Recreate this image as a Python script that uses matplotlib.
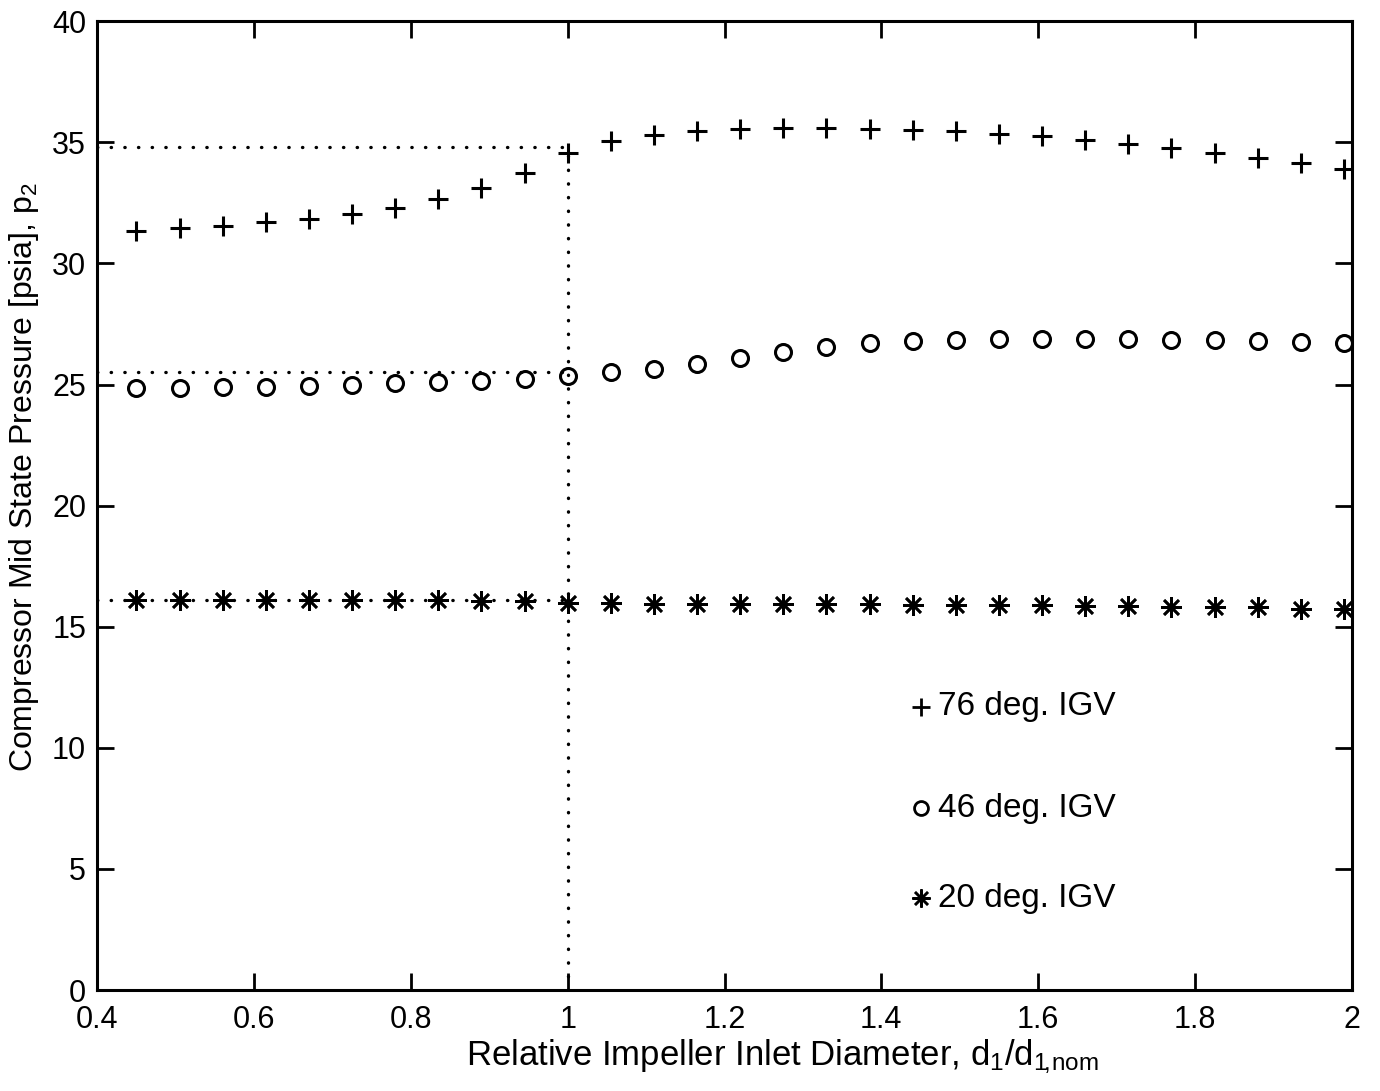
"""
Compressor mid state pressure vs relative impeller inlet diameter.
Recreation of a scanned MATLAB-style plot.
"""

import matplotlib.pyplot as plt

plt.rcParams["font.family"] = ["Liberation Sans", "DejaVu Sans"]
plt.rcParams["mathtext.fontset"] = "custom"
plt.rcParams["mathtext.rm"] = "Liberation Sans"
plt.rcParams["mathtext.it"] = "Liberation Sans"

# ── Data ─────────────────────────────────────────────────────────────────────
d_rel = [0.45, 0.505, 0.56, 0.615, 0.67, 0.725, 0.78, 0.835, 0.89, 0.945, 1.0,
         1.055, 1.11, 1.165, 1.22, 1.275, 1.33, 1.385, 1.44, 1.495, 1.55,
         1.605, 1.66, 1.715, 1.77, 1.825, 1.88, 1.935, 1.99]

p2_76 = [31.35, 31.45, 31.55, 31.7, 31.85, 32.05, 32.3, 32.65, 33.1, 33.75, 34.55,
         35.05, 35.3, 35.45, 35.55, 35.6, 35.6, 35.55, 35.5, 35.45, 35.35,
         35.25, 35.1, 34.95, 34.75, 34.55, 34.35, 34.15, 33.9]

p2_46 = [24.85, 24.85, 24.9, 24.9, 24.95, 25.0, 25.05, 25.1, 25.15, 25.25, 25.35,
         25.5, 25.65, 25.85, 26.1, 26.35, 26.55, 26.7, 26.8, 26.85, 26.9,
         26.9, 26.9, 26.9, 26.85, 26.85, 26.8, 26.75, 26.7]

p2_20 = [16.1, 16.1, 16.1, 16.1, 16.1, 16.1, 16.1, 16.1, 16.05, 16.05, 16.0,
         16.0, 15.95, 15.95, 15.95, 15.95, 15.95, 15.95, 15.9, 15.9, 15.9,
         15.9, 15.85, 15.85, 15.8, 15.8, 15.8, 15.75, 15.75]

# nominal point reference levels (dotted guides)
d_nom = 1.0
ref_76 = 34.8
ref_46 = 25.5
ref_20 = 16.1

legend_labels = ["76 deg. IGV", "46 deg. IGV", "20 deg. IGV"]
legend_y = [11.7, 7.5, 3.8]
legend_x = 1.45

STAR = (8, 2, 0)

# ── Plot ─────────────────────────────────────────────────────────────────────
fig = plt.figure(figsize=(13.8, 10.91), dpi=100)
fig.patch.set_facecolor("white")
ax = fig.add_axes([0.0705, 0.0925, 0.909, 0.888])

ax.plot(d_rel, p2_76, linestyle="none", marker="+", ms=14, mew=2.2, color="black")
ax.plot(d_rel, p2_46, linestyle="none", marker="o", ms=11.5, mew=2.2,
        mfc="none", mec="black")
ax.plot(d_rel, p2_20, linestyle="none", marker=STAR, ms=15, mew=1.9,
        color="black")

dot = dict(color="black", linestyle=(0, (0.1, 4)), linewidth=2.4,
           dash_capstyle="round")
ax.plot([0.4, d_nom], [ref_76, ref_76], **dot)
ax.plot([d_nom, d_nom], [0, ref_76], **dot)
ax.plot([0.4, d_nom], [ref_46, ref_46], **dot)
ax.plot([0.4, d_nom], [ref_20, ref_20], **dot)

# legend written as text, MATLAB style
leg_style = [
    dict(marker="+", ms=13, mew=2.0, color="black"),
    dict(marker="o", ms=10, mew=2.0, mfc="none", mec="black"),
    dict(marker=STAR, ms=13, mew=1.8, color="black"),
]
for st, lab, yy in zip(leg_style, legend_labels, legend_y):
    ax.plot(legend_x, yy, linestyle="none", **st)
    ax.text(legend_x + 0.022, yy, lab, fontsize=24, va="center", ha="left")

ax.set_xlim(0.4, 2.0)
ax.set_ylim(0, 40)
ax.set_xticks([0.4, 0.6, 0.8, 1.0, 1.2, 1.4, 1.6, 1.8, 2.0])
ax.set_xticklabels(["0.4", "0.6", "0.8", "1", "1.2", "1.4", "1.6", "1.8", "2"])
ax.set_yticks(range(0, 41, 5))
ax.tick_params(direction="in", length=12, width=2, labelsize=22,
               top=True, right=True)
ax.tick_params(axis="x", pad=11)
ax.tick_params(axis="y", pad=8)
for s in ax.spines.values():
    s.set_linewidth(2.2)

ax.set_xlabel(r"Relative Impeller Inlet Diameter, d$_1$/d$_{1\!,\!\mathrm{nom}}$",
              fontsize=25)
ax.xaxis.set_label_coords(0.546, -0.049)
ax.set_ylabel(r"Compressor Mid State Pressure [psia], p$_2$", fontsize=23)
ax.yaxis.set_label_coords(-0.045, 0.53)

fig.savefig("out.png", dpi=100, facecolor="white")
